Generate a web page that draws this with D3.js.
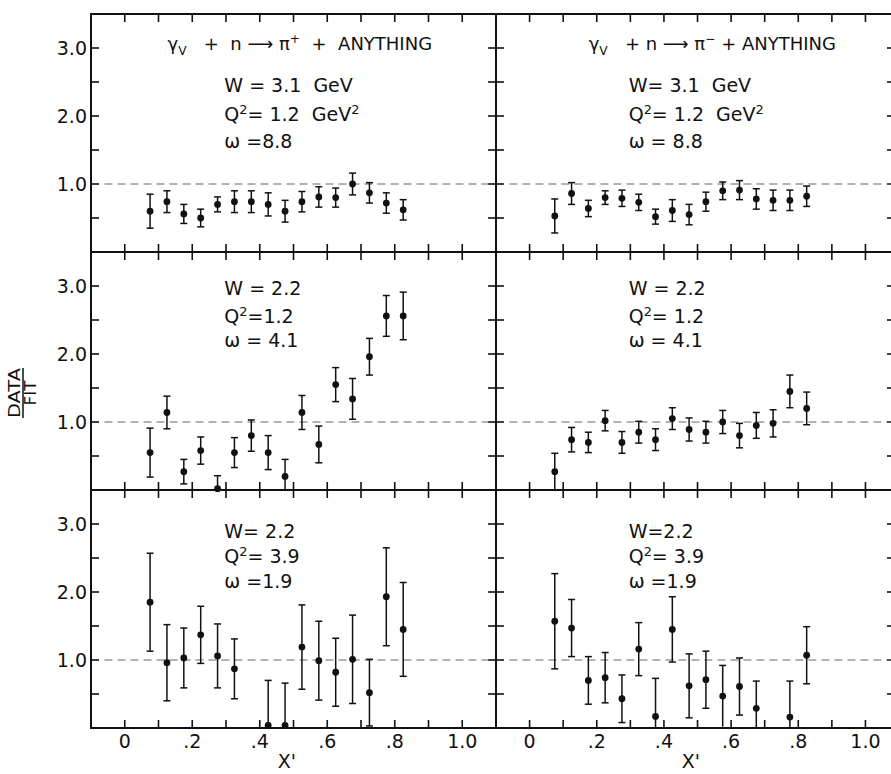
<!DOCTYPE html>
<html>
<head>
<meta charset="utf-8">
<script src="https://cdn.jsdelivr.net/npm/d3@7"></script>
<style>
  body { margin: 0; background: #fff; }
  text { font-family: "DejaVu Sans", sans-serif; fill: #111; white-space: pre; }
</style>
</head>
<body>
<div id="chart"></div>
<script>
// x' bin centres shared by all six panels
var xPrime = [0.075, 0.125, 0.175, 0.225, 0.275, 0.325, 0.375, 0.425, 0.475, 0.525, 0.575, 0.625, 0.675, 0.725, 0.775, 0.825];

// DATA/FIT ratios (null = no point plotted)
var piPlusW31      = [0.60, 0.74, 0.56, 0.50, 0.70, 0.74, 0.74, 0.70, 0.60, 0.74, 0.81, 0.80, 1.00, 0.87, 0.72, 0.62];
var piPlusW31Err   = [0.25, 0.16, 0.14, 0.13, 0.11, 0.16, 0.16, 0.17, 0.16, 0.15, 0.15, 0.14, 0.16, 0.15, 0.15, 0.15];
var piMinusW31     = [0.53, 0.86, 0.64, 0.80, 0.79, 0.73, 0.52, 0.61, 0.55, 0.74, 0.90, 0.91, 0.78, 0.76, 0.76, 0.82];
var piMinusW31Err  = [0.25, 0.16, 0.12, 0.10, 0.12, 0.12, 0.11, 0.16, 0.15, 0.14, 0.13, 0.14, 0.15, 0.15, 0.15, 0.15];
var piPlusQ12      = [0.55, 1.14, 0.27, 0.58, 0.02, 0.55, 0.80, 0.55, 0.20, 1.14, 0.67, 1.55, 1.34, 1.96, 2.56, 2.56];
var piPlusQ12Err   = [0.36, 0.24, 0.18, 0.20, 0.19, 0.22, 0.23, 0.25, 0.25, 0.25, 0.27, 0.25, 0.30, 0.27, 0.30, 0.35];
var piMinusQ12     = [0.27, 0.74, 0.70, 1.02, 0.70, 0.85, 0.74, 1.05, 0.89, 0.85, 1.00, 0.80, 0.95, 0.98, 1.45, 1.20];
var piMinusQ12Err  = [0.27, 0.18, 0.15, 0.15, 0.16, 0.16, 0.16, 0.16, 0.17, 0.16, 0.17, 0.18, 0.19, 0.20, 0.24, 0.24];
var piPlusQ39      = [1.85, 0.96, 1.03, 1.37, 1.06, 0.87, null, 0.04, 0.04, 1.19, 0.99, 0.82, 1.01, 0.52, 1.93, 1.45];
var piPlusQ39Err   = [0.72, 0.56, 0.44, 0.42, 0.47, 0.44, null, 0.66, 0.62, 0.62, 0.58, 0.50, 0.65, 0.49, 0.72, 0.69];
var piMinusQ39     = [1.57, 1.47, 0.70, 0.74, 0.43, 1.16, 0.17, 1.45, 0.62, 0.71, 0.47, 0.61, 0.29, null, 0.16, 1.07];
var piMinusQ39Err  = [0.70, 0.42, 0.35, 0.37, 0.35, 0.39, 0.56, 0.48, 0.47, 0.42, 0.45, 0.42, 0.40, null, 0.53, 0.42];

// axis ticks and labels
var xTicks = [0, 0.1, 0.2, 0.3, 0.4, 0.5, 0.6, 0.7, 0.8, 0.9, 1.0];
var xTickLabels = ["0", ".2", ".4", ".6", ".8", "1.0"];
var xLabelValues = [0, 0.2, 0.4, 0.6, 0.8, 1.0];
var yTicks = [0.5, 1.0, 1.5, 2.0, 2.5, 3.0];
var yLabelValues = [1.0, 2.0, 3.0];
var yTickLabels = ["1.0", "2.0", "3.0"];

// reaction titles and kinematics text (^{..} superscript, _{..} subscript)
var titles = ["\u03B3_{V}   +  n \u27F6 \u03C0^{+}  +  ANYTHING", "\u03B3_{V}   + n \u27F6 \u03C0^{\u2212} + ANYTHING"];
var kinematics = [
  ["W = 3.1  GeV", "Q^{2}= 1.2  GeV^{2}", "\u03C9 =8.8"],
  ["W= 3.1  GeV", "Q^{2}= 1.2  GeV^{2}", "\u03C9 = 8.8"],
  ["W = 2.2", "Q^{2}=1.2", "\u03C9 = 4.1"],
  ["W = 2.2", "Q^{2}= 1.2", "\u03C9 = 4.1"],
  ["W= 2.2", "Q^{2}= 3.9", "\u03C9 =1.9"],
  ["W=2.2", "Q^{2}= 3.9", "\u03C9 =1.9"]
];

var panels = [
  {row: 0, col: 0, v: piPlusW31,  e: piPlusW31Err},
  {row: 0, col: 1, v: piMinusW31, e: piMinusW31Err},
  {row: 1, col: 0, v: piPlusQ12,  e: piPlusQ12Err},
  {row: 1, col: 1, v: piMinusQ12, e: piMinusQ12Err},
  {row: 2, col: 0, v: piPlusQ39,  e: piPlusQ39Err},
  {row: 2, col: 1, v: piMinusQ39, e: piMinusQ39Err}
];

// layout
var W = 891, H = 774;
var cols = [{x0: 91, x1: 496, dmax: 1.1}, {x0: 496, x1: 895, dmax: 1.088}];
var rowTop = [14, 252, 490], panelH = 238;
var textTop = [[78, 107, 134], [43, 71, 95], [48, 73, 98]];
var tick = 8;

var svg = d3.select("#chart").append("svg")
  .attr("width", W).attr("height", H);

function rich(sel, str) {
  var parts = str.split(/(\^\{[^}]*\}|_\{[^}]*\})/);
  var shift = 0;
  parts.forEach(function(p) {
    if (!p) return;
    var target = 0, s = p;
    if (p[0] === "^") { target = -7; s = p.slice(2, -1); }
    else if (p[0] === "_") { target = 5; s = p.slice(2, -1); }
    var t = sel.append("tspan").attr("dy", target - shift).text(s);
    if (target !== 0) t.style("font-size", "0.68em");
    shift = target;
  });
}

panels.forEach(function(p, pi) {
  var c = cols[p.col];
  var top = rowTop[p.row];
  var x = d3.scaleLinear().domain([-0.1, c.dmax]).range([c.x0, c.x1]);
  var y = d3.scaleLinear().domain([0, 3.5]).range([top + panelH, top]);
  var g = svg.append("g");

  // frame
  g.append("rect")
    .attr("x", c.x0).attr("y", top)
    .attr("width", c.x1 - c.x0).attr("height", panelH)
    .attr("fill", "none").attr("stroke", "#111").attr("stroke-width", 2);

  // inward ticks on all four sides
  var tk = g.append("g").attr("stroke", "#111").attr("stroke-width", 1.6);
  xTicks.forEach(function(t) {
    tk.append("line").attr("x1", x(t)).attr("x2", x(t)).attr("y1", top).attr("y2", top + tick);
    tk.append("line").attr("x1", x(t)).attr("x2", x(t)).attr("y1", top + panelH).attr("y2", top + panelH - tick);
  });
  yTicks.forEach(function(t) {
    tk.append("line").attr("x1", c.x0).attr("x2", c.x0 + tick).attr("y1", y(t)).attr("y2", y(t));
    tk.append("line").attr("x1", c.x1).attr("x2", c.x1 - tick).attr("y1", y(t)).attr("y2", y(t));
  });

  // DATA/FIT = 1 reference
  g.append("line")
    .attr("x1", x(-0.06)).attr("x2", x(c.dmax))
    .attr("y1", y(1)).attr("y2", y(1))
    .attr("stroke", "#666").attr("stroke-width", 1)
    .attr("stroke-dasharray", "8,5");

  // y labels on the left column
  if (p.col === 0) {
    yLabelValues.forEach(function(v, i) {
      g.append("text").attr("x", c.x0 - 4).attr("y", y(v)).attr("dy", "0.36em")
        .attr("text-anchor", "end").style("font-size", "19px").text(yTickLabels[i]);
    });
  }
  // x labels on the bottom row
  if (p.row === 2) {
    xLabelValues.forEach(function(v, i) {
      g.append("text").attr("x", x(v)).attr("y", top + panelH + 20)
        .attr("text-anchor", "middle").style("font-size", "19px").text(xTickLabels[i]);
    });
    g.append("text").attr("x", x(0.48)).attr("y", H - 6)
      .attr("text-anchor", "middle").style("font-size", "19px").text("X'");
  }

  // reaction title
  if (p.row === 0) {
    var tt = g.append("text").attr("x", x(p.col === 0 ? 0.127 : 0.176)).attr("y", top + 36)
      .style("font-size", "18px");
    rich(tt, titles[p.col]);
  }

  // kinematics
  kinematics[pi].forEach(function(line, i) {
    var t = g.append("text").attr("x", x(0.295)).attr("y", top + textTop[p.row][i])
      .style("font-size", "19px");
    rich(t, line);
  });

  // error bars and points
  var pts = xPrime.map(function(xv, i) { return {x: xv, v: p.v[i], e: p.e[i]}; })
    .filter(function(d) { return d.v !== null; });
  var eb = g.append("g").attr("stroke", "#111").attr("stroke-width", 1.5);
  pts.forEach(function(d) {
    var lo = Math.max(0, d.v - d.e), hi = Math.min(3.5, d.v + d.e);
    var cx = x(d.x);
    eb.append("line").attr("x1", cx).attr("x2", cx).attr("y1", y(lo)).attr("y2", y(hi));
    eb.append("line").attr("x1", cx - 3.5).attr("x2", cx + 3.5).attr("y1", y(hi)).attr("y2", y(hi));
    if (d.v - d.e > 0.02) {
      eb.append("line").attr("x1", cx - 3.5).attr("x2", cx + 3.5).attr("y1", y(lo)).attr("y2", y(lo));
    }
  });
  g.selectAll("circle.pt").data(pts).enter().append("circle")
    .attr("class", "pt")
    .attr("cx", function(d) { return x(d.x); })
    .attr("cy", function(d) { return y(d.v); })
    .attr("r", 3.4).attr("fill", "#111");
});

// DATA / FIT label, rotated
var yl = svg.append("g").attr("transform", "translate(23,393) rotate(-90)");
yl.append("text").attr("x", 0).attr("y", -3).attr("text-anchor", "middle")
  .attr("textLength", 50).attr("lengthAdjust", "spacingAndGlyphs")
  .style("font-size", "15px").text("DATA");
yl.append("line").attr("x1", -25).attr("x2", 25).attr("y1", 0).attr("y2", 0)
  .attr("stroke", "#111").attr("stroke-width", 1.5);
yl.append("text").attr("x", 0).attr("y", 13).attr("text-anchor", "middle")
  .attr("textLength", 25).attr("lengthAdjust", "spacingAndGlyphs")
  .style("font-size", "15px").text("FIT");
</script>
</body>
</html>
